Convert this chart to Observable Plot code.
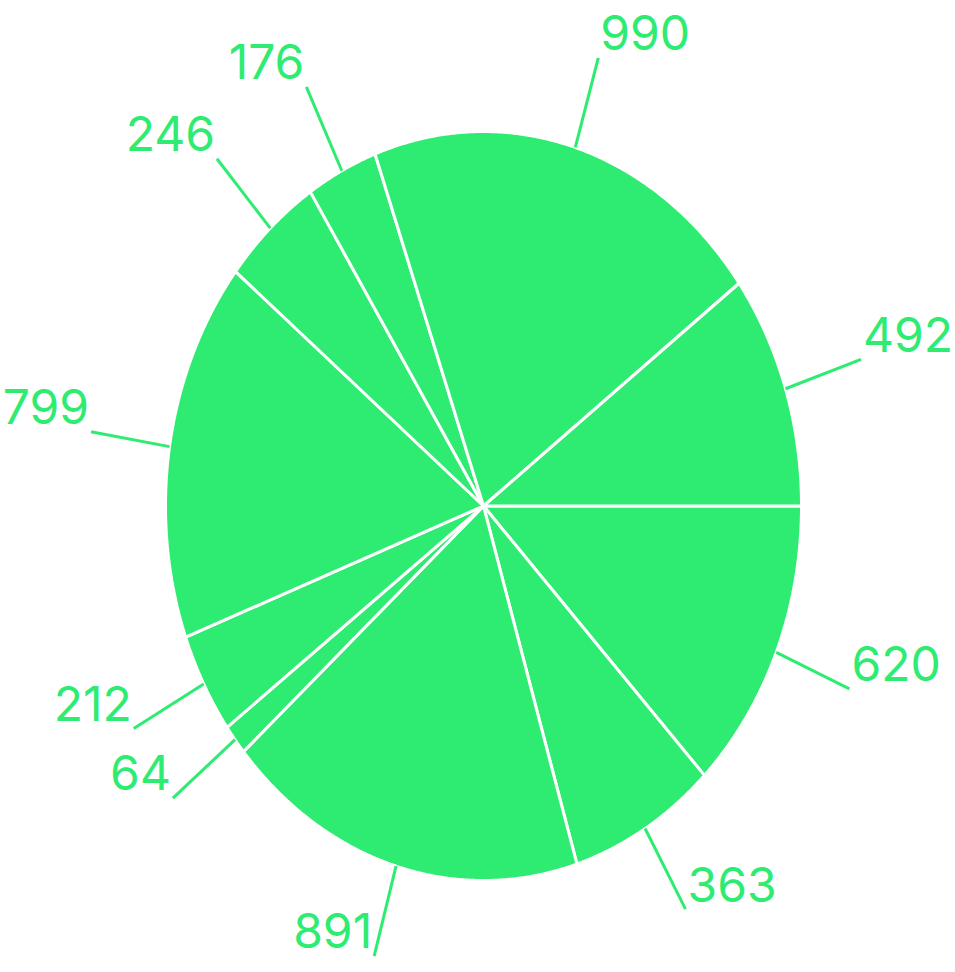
<!DOCTYPE html>
<html>
<head>
<meta charset="utf-8">
<script src="https://cdn.jsdelivr.net/npm/d3@7"></script>
<script src="https://cdn.jsdelivr.net/npm/@observablehq/plot@0.6"></script>
<style>
  html, body { margin: 0; padding: 0; background: #fff; }
  #chart svg { display: block; }
</style>
</head>
<body>
<div id="chart"></div>
<script>
// Slice values, clockwise from 3 o'clock
const labels = ["620", "363", "891", "64", "212", "799", "246", "176", "990", "492"];
const values = [620, 363, 891, 64, 212, 799, 246, 176, 990, 492];

const green = "#2eec71";

const pie = d3.pie().sort(null).startAngle(Math.PI / 2).endAngle(Math.PI / 2 + 2 * Math.PI);
const arcs = pie(values).map((a, i) => ({...a, key: labels[i]}));

// polygon points for each slice (center -> arc -> center)
const slicePts = [];
for (const a of arcs) {
  slicePts.push({key: a.key, x: 0, y: 0});
  const n = Math.max(2, Math.ceil((a.endAngle - a.startAngle) / 0.005));
  for (let k = 0; k <= n; k++) {
    const t = a.startAngle + (a.endAngle - a.startAngle) * k / n;
    slicePts.push({key: a.key, x: Math.sin(t), y: Math.cos(t)});
  }
  slicePts.push({key: a.key, x: 0, y: 0});
}

const rOut = 1.25;
const leaders = arcs.map(a => {
  const m = (a.startAngle + a.endAngle) / 2;
  return {
    key: a.key,
    x1: Math.sin(m), y1: Math.cos(m),
    x2: rOut * Math.sin(m), y2: rOut * Math.cos(m),
    right: Math.sin(m) >= 0
  };
});

const chart = Plot.plot({
  width: 955,
  height: 972,
  margin: 0,
  x: {domain: [-1, 1], range: [165, 801], axis: null},
  y: {domain: [-1, 1], range: [880, 131], axis: null},
  marks: [
    Plot.line(slicePts, {x: "x", y: "y", z: "key", fill: green, stroke: "white", strokeWidth: 3, strokeLinejoin: "miter", curve: "linear"}),
    Plot.link(leaders, {x1: "x1", y1: "y1", x2: "x2", y2: "y2", stroke: green, strokeWidth: 3}),
    Plot.text(leaders.filter(d => d.right), {x: "x2", y: "y2", text: "key", textAnchor: "start", dx: 2, dy: -23, fill: green, fontSize: 48, fontFamily: "Inter"}),
    Plot.text(leaders.filter(d => !d.right), {x: "x2", y: "y2", text: "key", textAnchor: "end", dx: -2, dy: -23, fill: green, fontSize: 48, fontFamily: "Inter"})
  ]
});
document.getElementById("chart").appendChild(chart);
</script>
</body>
</html>
